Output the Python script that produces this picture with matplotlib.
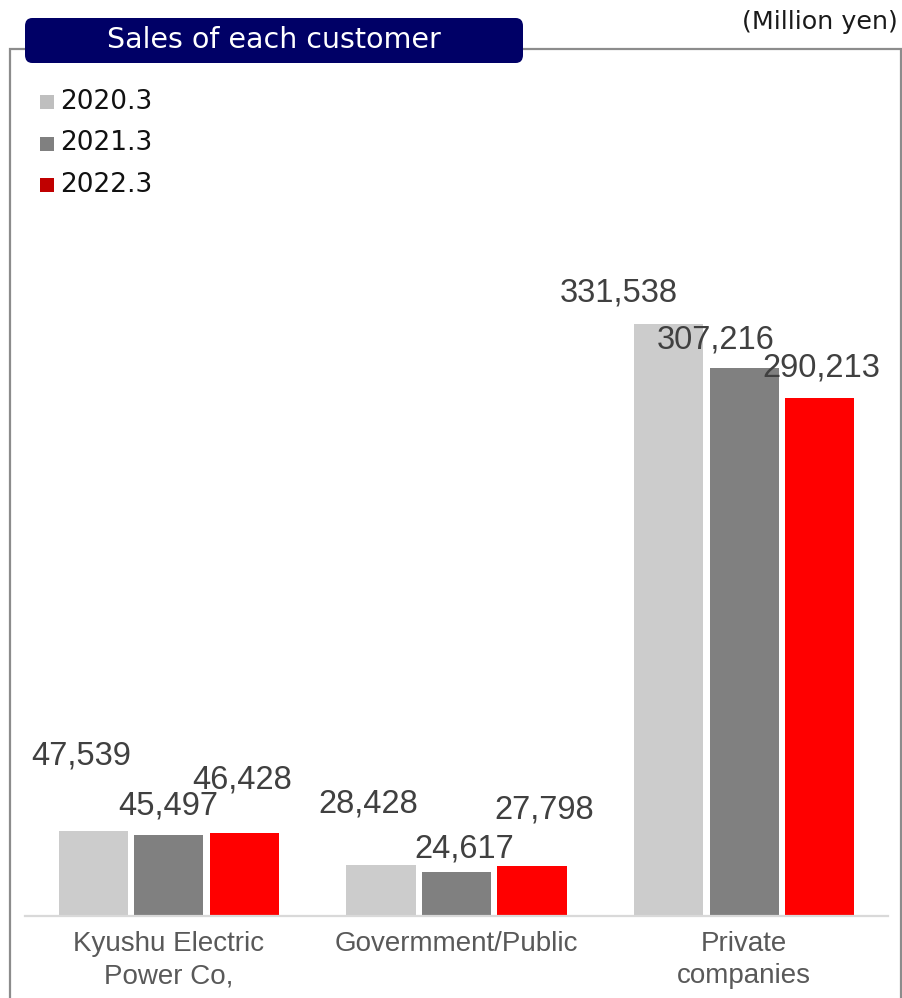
import matplotlib
matplotlib.use("Agg")
import matplotlib.pyplot as plt
from matplotlib.patches import Rectangle, FancyBboxPatch
import numpy as np

# ---- data -------------------------------------------------------------
categories = ["Kyushu Electric\nPower Co,", "Govermment/Public", "Private\ncompanies"]
series_names = ["2020.3", "2021.3", "2022.3"]
sales_2020 = [47539, 28428, 331538]
sales_2021 = [45497, 24617, 307216]
sales_2022 = [46428, 27798, 290213]
title_text = "Sales of each customer"
unit_text = "(Million yen)"

# ---- styling ----------------------------------------------------------
bar_colors = ["#CCCCCC", "#808080", "#FF0000"]
legend_colors = ["#BFBFBF", "#808080", "#C00000"]
# label nudges (pixels) relative to each bar top: [series][category]
label_dx = [[-12, -13, -50], [-1, 8, -29], [-2, 12, 2]]
label_dy = [[75, 61, 31], [29, 23, 28], [53, 56, 30]]

W, H = 903, 998
fig = plt.figure(figsize=(W / 100, H / 100), dpi=100)


def fx(x):
    return x / W


def fy(y):
    return 1 - y / H


# outer frame
fig.patches.append(Rectangle((fx(10), fy(1010)), fx(901) - fx(10), fy(49) - fy(1010),
                             transform=fig.transFigure, fill=False,
                             edgecolor="#8C8C8C", linewidth=1.6, zorder=1))

# title badge
fig.patches.append(FancyBboxPatch((fx(25), fy(63)), fx(523) - fx(25), fy(18) - fy(63),
                                  boxstyle="round,pad=0,rounding_size=0.008",
                                  transform=fig.transFigure, facecolor="#000066",
                                  edgecolor="none", zorder=3))
fig.text(fx(274), fy(40), title_text, color="white", fontsize=20.5,
         family="DejaVu Sans", ha="center", va="center", zorder=4)
fig.text(fx(898), fy(22), unit_text, color="#1A1A1A", fontsize=18.3,
         family="DejaVu Sans", ha="right", va="center")

# legend
for i, name in enumerate(series_names):
    yc = 102 + i * 41.5
    fig.patches.append(Rectangle((fx(40), fy(yc + 7)), fx(14), fy(0) - fy(14),
                                 transform=fig.transFigure, facecolor=legend_colors[i],
                                 edgecolor="none"))
    fig.text(fx(60), fy(yc), name, color="#111111", fontsize=19,
             family="DejaVu Sans", ha="left", va="center")

# ---- bars -------------------------------------------------------------
px_per_unit = 0.001785
ymax = 400000
ax_bottom_px = 916
ax_h_px = ymax * px_per_unit
ax = fig.add_axes([fx(25), 1 - ax_bottom_px / H, fx(888) - fx(25), ax_h_px / H])
ax.set_xlim(-0.5, 2.5)
ax.set_ylim(0, ymax)

x = np.arange(len(categories))
step = 0.2625
width = 0.24
all_series = [sales_2020, sales_2021, sales_2022]
for i, vals in enumerate(all_series):
    xs = x + (i - 1) * step
    ax.bar(xs, vals, width=width, color=bar_colors[i], edgecolor="none", zorder=2)
    for j, v in enumerate(vals):
        ax.annotate(f"{v:,}", xy=(xs[j], v), xytext=(label_dx[i][j], label_dy[i][j]),
                    textcoords="offset pixels", ha="center", va="center",
                    fontsize=23.5, family="Liberation Sans", color="#404040", zorder=5)

ax.set_xticks(x)
ax.set_xticklabels(categories, fontsize=20, family="Liberation Sans", color="#595959",
                   linespacing=1.3)
ax.tick_params(axis="x", length=0, pad=11)
ax.set_yticks([])
for s in ["left", "right", "top"]:
    ax.spines[s].set_visible(False)
ax.spines["bottom"].set_color("#D9D9D9")
ax.spines["bottom"].set_linewidth(1.6)
ax.patch.set_alpha(0)

fig.savefig("out.png", dpi=100)
